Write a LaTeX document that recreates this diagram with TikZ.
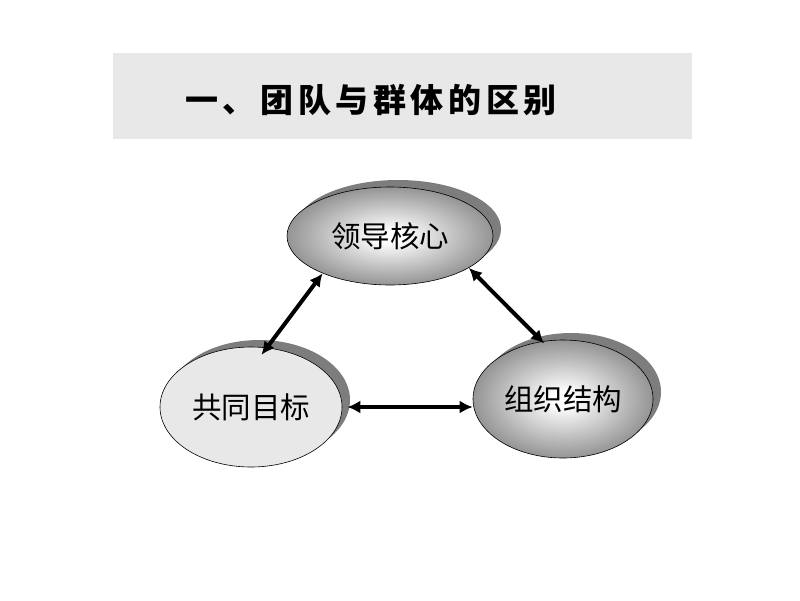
\documentclass[tikz,border=0pt]{standalone}
\usepackage{fontspec}
\newfontfamily\cjk{Noto Sans CJK SC}
\usetikzlibrary{shapes.geometric,shadows,arrows.meta}
\definecolor{boxgray}{RGB}{232,232,232}
\definecolor{shadowgray}{RGB}{125,125,125}
\definecolor{rimgray}{RGB}{100,100,100}
\definecolor{palegray}{RGB}{232,232,232}
\pgfdeclareradialshading{glow}{\pgfpoint{0bp}{0bp}}{color(0bp)=(white); color(3bp)=(white); color(35bp)=(rimgray); color(50bp)=(rimgray)}

\begin{document}
\begin{tikzpicture}[x=1pt, y=-1pt,
    oval/.style={ellipse, draw=black, line width=0.6pt, inner sep=0,
        general shadow={fill=shadowgray, shadow xshift=8pt, shadow yshift=7pt},
        font=\cjk\fontsize{29.5}{29.5}\selectfont},
    shiny/.style={oval, shading=glow},
    link/.style={<->, >={Latex[length=13pt,width=13pt]}, line width=4pt}]
    \useasboundingbox (0,0) rectangle (800,600);

    % title bar
    \node[fill=boxgray, minimum width=579pt, minimum height=86pt, inner sep=0] (bar) at (402.5,96) {};
    \node (title) at (371,100) {\cjk\fontsize{33}{33}\selectfont\bfseries\addfontfeature{LetterSpace=14}一、团队与群体的区别};

    % three ovals
    \node[shiny, minimum width=206pt, minimum height=98pt] (lead) at (390,236) {领导核心};
    \node[oval, fill=palegray, minimum width=182pt, minimum height=120pt] (goal) at (251,407) {共同目标};
    \node[shiny, minimum width=180pt, minimum height=118pt] (struct) at (563,399) {组织结构};

    % arrows between
    \draw[link, shorten >=-9pt] (lead.209) -- (goal.75);
    \draw[link, shorten >=-3pt] (lead.338) -- (struct.110);
    \draw[link, shorten <=5pt] (goal.east) -- (goal.east -| struct.west);
\end{tikzpicture}
\end{document}
